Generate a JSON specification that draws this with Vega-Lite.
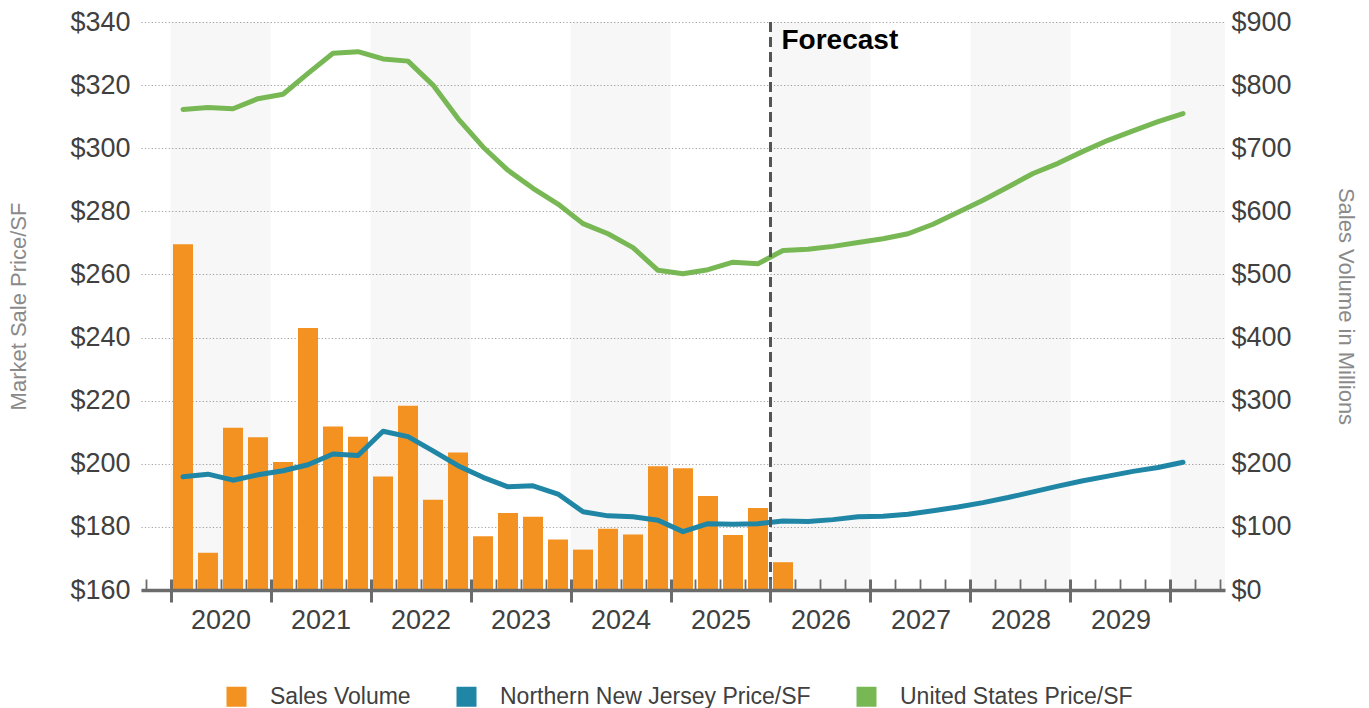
{
  "$schema": "https://vega.github.io/schema/vega-lite/v6.json",
  "width": 1084,
  "height": 568,
  "autosize": {"type": "none"},
  "padding": {"left": 141, "top": 22, "right": 144, "bottom": 118},
  "background": "white",
  "config": {"view": {"stroke": null}, "font": "Liberation Sans"},
  "datasets": {
    "bands": [
      {"start": 2020, "end": 2021}, {"start": 2022, "end": 2023}, {"start": 2024, "end": 2025},
      {"start": 2026, "end": 2027}, {"start": 2028, "end": 2029}, {"start": 2030, "end": 2031}
    ],
    "volume": [
      {"t": 2020.125, "series": "Sales Volume", "value": 548},
      {"t": 2020.375, "series": "Sales Volume", "value": 59},
      {"t": 2020.625, "series": "Sales Volume", "value": 257},
      {"t": 2020.875, "series": "Sales Volume", "value": 242},
      {"t": 2021.125, "series": "Sales Volume", "value": 203},
      {"t": 2021.375, "series": "Sales Volume", "value": 415},
      {"t": 2021.625, "series": "Sales Volume", "value": 259},
      {"t": 2021.875, "series": "Sales Volume", "value": 243},
      {"t": 2022.125, "series": "Sales Volume", "value": 180},
      {"t": 2022.375, "series": "Sales Volume", "value": 292},
      {"t": 2022.625, "series": "Sales Volume", "value": 143},
      {"t": 2022.875, "series": "Sales Volume", "value": 218},
      {"t": 2023.125, "series": "Sales Volume", "value": 85},
      {"t": 2023.375, "series": "Sales Volume", "value": 122},
      {"t": 2023.625, "series": "Sales Volume", "value": 116},
      {"t": 2023.875, "series": "Sales Volume", "value": 80},
      {"t": 2024.125, "series": "Sales Volume", "value": 64},
      {"t": 2024.375, "series": "Sales Volume", "value": 97},
      {"t": 2024.625, "series": "Sales Volume", "value": 88},
      {"t": 2024.875, "series": "Sales Volume", "value": 196},
      {"t": 2025.125, "series": "Sales Volume", "value": 193},
      {"t": 2025.375, "series": "Sales Volume", "value": 149},
      {"t": 2025.625, "series": "Sales Volume", "value": 87},
      {"t": 2025.875, "series": "Sales Volume", "value": 130},
      {"t": 2026.125, "series": "Sales Volume", "value": 44}
    ],
    "price": [
      {"t": 2020.125, "series": "Northern New Jersey Price/SF", "value": 195.9},
      {"t": 2020.375, "series": "Northern New Jersey Price/SF", "value": 196.7},
      {"t": 2020.625, "series": "Northern New Jersey Price/SF", "value": 194.8},
      {"t": 2020.875, "series": "Northern New Jersey Price/SF", "value": 196.5},
      {"t": 2021.125, "series": "Northern New Jersey Price/SF", "value": 197.8},
      {"t": 2021.375, "series": "Northern New Jersey Price/SF", "value": 199.7},
      {"t": 2021.625, "series": "Northern New Jersey Price/SF", "value": 203.1},
      {"t": 2021.875, "series": "Northern New Jersey Price/SF", "value": 202.6},
      {"t": 2022.125, "series": "Northern New Jersey Price/SF", "value": 210.3},
      {"t": 2022.375, "series": "Northern New Jersey Price/SF", "value": 208.6},
      {"t": 2022.625, "series": "Northern New Jersey Price/SF", "value": 204.1},
      {"t": 2022.875, "series": "Northern New Jersey Price/SF", "value": 199.4},
      {"t": 2023.125, "series": "Northern New Jersey Price/SF", "value": 195.7},
      {"t": 2023.375, "series": "Northern New Jersey Price/SF", "value": 192.7},
      {"t": 2023.625, "series": "Northern New Jersey Price/SF", "value": 193.0},
      {"t": 2023.875, "series": "Northern New Jersey Price/SF", "value": 190.4},
      {"t": 2024.125, "series": "Northern New Jersey Price/SF", "value": 184.8},
      {"t": 2024.375, "series": "Northern New Jersey Price/SF", "value": 183.5},
      {"t": 2024.625, "series": "Northern New Jersey Price/SF", "value": 183.2},
      {"t": 2024.875, "series": "Northern New Jersey Price/SF", "value": 182.1},
      {"t": 2025.125, "series": "Northern New Jersey Price/SF", "value": 178.5},
      {"t": 2025.375, "series": "Northern New Jersey Price/SF", "value": 181.0},
      {"t": 2025.625, "series": "Northern New Jersey Price/SF", "value": 180.8},
      {"t": 2025.875, "series": "Northern New Jersey Price/SF", "value": 181.0},
      {"t": 2026.125, "series": "Northern New Jersey Price/SF", "value": 181.9},
      {"t": 2026.375, "series": "Northern New Jersey Price/SF", "value": 181.7},
      {"t": 2026.625, "series": "Northern New Jersey Price/SF", "value": 182.3},
      {"t": 2026.875, "series": "Northern New Jersey Price/SF", "value": 183.2},
      {"t": 2027.125, "series": "Northern New Jersey Price/SF", "value": 183.4},
      {"t": 2027.375, "series": "Northern New Jersey Price/SF", "value": 184.0},
      {"t": 2027.625, "series": "Northern New Jersey Price/SF", "value": 185.1},
      {"t": 2027.875, "series": "Northern New Jersey Price/SF", "value": 186.3},
      {"t": 2028.125, "series": "Northern New Jersey Price/SF", "value": 187.7},
      {"t": 2028.375, "series": "Northern New Jersey Price/SF", "value": 189.3},
      {"t": 2028.625, "series": "Northern New Jersey Price/SF", "value": 191.1},
      {"t": 2028.875, "series": "Northern New Jersey Price/SF", "value": 192.9},
      {"t": 2029.125, "series": "Northern New Jersey Price/SF", "value": 194.6},
      {"t": 2029.375, "series": "Northern New Jersey Price/SF", "value": 196.1},
      {"t": 2029.625, "series": "Northern New Jersey Price/SF", "value": 197.6},
      {"t": 2029.875, "series": "Northern New Jersey Price/SF", "value": 198.8},
      {"t": 2030.125, "series": "Northern New Jersey Price/SF", "value": 200.5},
      {"t": 2020.125, "series": "United States Price/SF", "value": 312.3},
      {"t": 2020.375, "series": "United States Price/SF", "value": 312.9},
      {"t": 2020.625, "series": "United States Price/SF", "value": 312.5},
      {"t": 2020.875, "series": "United States Price/SF", "value": 315.7},
      {"t": 2021.125, "series": "United States Price/SF", "value": 317.1},
      {"t": 2021.375, "series": "United States Price/SF", "value": 323.7},
      {"t": 2021.625, "series": "United States Price/SF", "value": 330.1},
      {"t": 2021.875, "series": "United States Price/SF", "value": 330.6},
      {"t": 2022.125, "series": "United States Price/SF", "value": 328.3},
      {"t": 2022.375, "series": "United States Price/SF", "value": 327.6},
      {"t": 2022.625, "series": "United States Price/SF", "value": 320.0},
      {"t": 2022.875, "series": "United States Price/SF", "value": 309.4},
      {"t": 2023.125, "series": "United States Price/SF", "value": 300.4},
      {"t": 2023.375, "series": "United States Price/SF", "value": 293.0},
      {"t": 2023.625, "series": "United States Price/SF", "value": 287.3},
      {"t": 2023.875, "series": "United States Price/SF", "value": 282.3},
      {"t": 2024.125, "series": "United States Price/SF", "value": 276.1},
      {"t": 2024.375, "series": "United States Price/SF", "value": 272.9},
      {"t": 2024.625, "series": "United States Price/SF", "value": 268.5},
      {"t": 2024.875, "series": "United States Price/SF", "value": 261.3},
      {"t": 2025.125, "series": "United States Price/SF", "value": 260.2},
      {"t": 2025.375, "series": "United States Price/SF", "value": 261.5},
      {"t": 2025.625, "series": "United States Price/SF", "value": 263.9},
      {"t": 2025.875, "series": "United States Price/SF", "value": 263.4},
      {"t": 2026.125, "series": "United States Price/SF", "value": 267.6},
      {"t": 2026.375, "series": "United States Price/SF", "value": 268.0},
      {"t": 2026.625, "series": "United States Price/SF", "value": 268.9},
      {"t": 2026.875, "series": "United States Price/SF", "value": 270.1},
      {"t": 2027.125, "series": "United States Price/SF", "value": 271.3},
      {"t": 2027.375, "series": "United States Price/SF", "value": 272.9},
      {"t": 2027.625, "series": "United States Price/SF", "value": 275.9},
      {"t": 2027.875, "series": "United States Price/SF", "value": 279.7},
      {"t": 2028.125, "series": "United States Price/SF", "value": 283.5},
      {"t": 2028.375, "series": "United States Price/SF", "value": 287.7},
      {"t": 2028.625, "series": "United States Price/SF", "value": 292.0},
      {"t": 2028.875, "series": "United States Price/SF", "value": 295.2},
      {"t": 2029.125, "series": "United States Price/SF", "value": 299.0},
      {"t": 2029.375, "series": "United States Price/SF", "value": 302.5},
      {"t": 2029.625, "series": "United States Price/SF", "value": 305.5},
      {"t": 2029.875, "series": "United States Price/SF", "value": 308.4},
      {"t": 2030.125, "series": "United States Price/SF", "value": 311.0}
    ]
  },
  "layer": [
    {
      "data": {"name": "bands"},
      "mark": {"type": "rect", "color": "#000000", "opacity": 0.033, "clip": true},
      "encoding": {
        "x": {
          "field": "start", "type": "quantitative",
          "scale": {"domain": [2019.705, 2030.545], "nice": false, "zero": false, "padding": 0},
          "axis": {
            "orient": "bottom", "title": null,
            "values": [2020, 2021, 2022, 2023, 2024, 2025, 2026, 2027, 2028, 2029, 2030],
            "domain": false, "grid": false, "ticks": true, "tickSize": 12, "tickWidth": 3, "tickColor": "#6b6b6b",
            "format": "d", "labelExpr": "datum.value < 2030 ? datum.label : ''",
            "labelOffset": 50, "labelPadding": 5, "labelFontSize": 27, "labelColor": "#404040",
            "labelFlush": false, "labelOverlap": false, "labelBound": false, "zindex": 2
          }
        },
        "x2": {"field": "end"}
      }
    },
    {
      "data": {"name": "volume"},
      "mark": {"type": "bar", "size": 20},
      "encoding": {
        "x": {
          "field": "t", "type": "quantitative",
          "scale": {"domain": [2019.705, 2030.545], "nice": false, "zero": false, "padding": 0},
          "axis": {
            "orient": "bottom", "title": null,
            "values": [2019.75, 2020, 2020.25, 2020.5, 2020.75, 2021, 2021.25, 2021.5, 2021.75, 2022, 2022.25, 2022.5, 2022.75, 2023, 2023.25, 2023.5, 2023.75, 2024, 2024.25, 2024.5, 2024.75, 2025, 2025.25, 2025.5, 2025.75, 2026, 2026.25, 2026.5, 2026.75, 2027, 2027.25, 2027.5, 2027.75, 2028, 2028.25, 2028.5, 2028.75, 2029, 2029.25, 2029.5, 2029.75, 2030, 2030.25, 2030.5],
            "domain": true, "domainColor": "#6b6b6b", "domainWidth": 3.5,
            "ticks": true, "tickSize": -11, "tickColor": "#6b6b6b",
            "tickWidth": {"condition": {"test": "datum.value % 1 === 0", "value": 3}, "value": 1.8},
            "labels": false, "grid": false, "zindex": 1
          }
        },
        "y": {
          "field": "value", "type": "quantitative",
          "scale": {"domain": [0, 900], "nice": false},
          "axis": {
            "orient": "right", "values": [0, 100, 200, 300, 400, 500, 600, 700, 800, 900],
            "format": "$.0f", "grid": false, "domain": false, "ticks": false,
            "labelPadding": 6, "labelFontSize": 27, "labelColor": "#404040",
            "title": "Sales Volume in Millions", "titleFontSize": 22, "titleColor": "#8a8a8a",
            "titleFontWeight": "normal", "titlePadding": 42
          }
        },
        "color": {
          "field": "series", "type": "nominal",
          "scale": {
            "domain": ["Sales Volume", "Northern New Jersey Price/SF", "United States Price/SF"],
            "range": ["#F39221", "#1F86A6", "#78B854"]
          },
          "legend": {
            "orient": "none", "legendX": 84, "legendY": 663, "direction": "horizontal", "title": null,
            "symbolType": "square", "symbolSize": 400, "symbolStrokeWidth": 0,
            "labelFontSize": 23, "labelColor": "#404040", "labelOffset": 22, "columnPadding": 44, "labelLimit": 0
          }
        }
      }
    },
    {
      "layer": [
        {
          "data": {"name": "price"},
          "mark": {"type": "line", "strokeWidth": 5, "strokeCap": "round", "strokeJoin": "round"},
          "encoding": {
            "x": {"field": "t", "type": "quantitative", "axis": null},
            "y": {
              "field": "value", "type": "quantitative",
              "scale": {"domain": [160, 340], "nice": false, "zero": false},
              "axis": {
                "orient": "left", "values": [160, 180, 200, 220, 240, 260, 280, 300, 320, 340],
                "format": "$.0f", "grid": true, "gridDash": [1.2, 2.2], "gridColor": "#a0a0a0", "gridWidth": 1,
                "domain": false, "ticks": false,
                "labelPadding": 11, "labelFontSize": 27, "labelColor": "#404040",
                "title": "Market Sale Price/SF", "titleFontSize": 22, "titleColor": "#8a8a8a",
                "titleFontWeight": "normal", "titlePadding": 39
              }
            },
            "color": {"field": "series", "type": "nominal", "legend": null}
          }
        },
        {
          "data": {"values": [{}]},
          "mark": {"type": "rule", "color": "#555555", "strokeWidth": 3, "strokeDash": [10, 5]},
          "encoding": {"x": {"datum": 2026, "type": "quantitative", "axis": null}}
        },
        {
          "data": {"values": [{}]},
          "mark": {"type": "text", "text": "Forecast", "align": "left", "baseline": "top", "dx": 11, "dy": 5, "fontSize": 28, "fontWeight": "bold", "color": "#000000"},
          "encoding": {
            "x": {"datum": 2026, "type": "quantitative", "axis": null},
            "y": {"datum": 340, "type": "quantitative"}
          }
        }
      ]
    }
  ],
  "resolve": {"scale": {"y": "independent"}, "axis": {"x": "independent"}}
}
